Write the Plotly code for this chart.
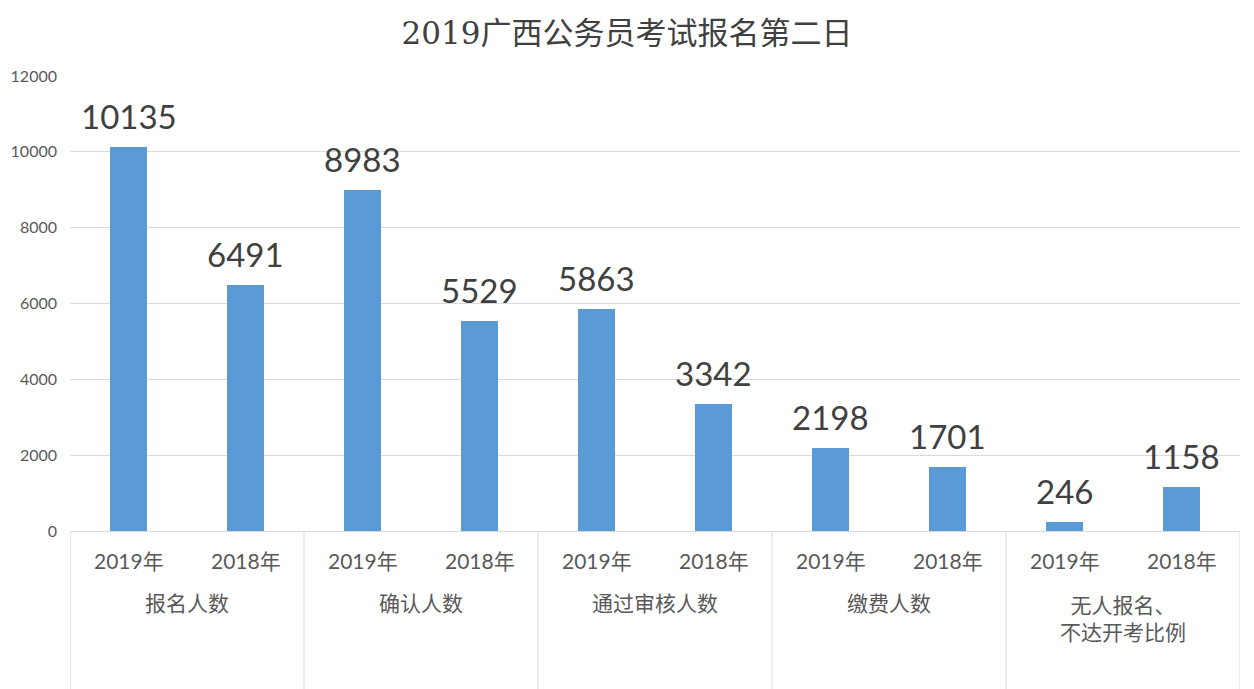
import plotly.graph_objects as go

groups = ["报名人数", "确认人数", "通过审核人数", "缴费人数", "无人报名、<br>不达开考比例"]
years = ["2019年", "2018年"]
values_2019 = [10135, 8983, 5863, 2198, 246]
values_2018 = [6491, 5529, 3342, 1701, 1158]
y_ticks = [0, 2000, 4000, 6000, 8000, 10000, 12000]

labels = []
vals = []
for i, g in enumerate(groups):
    labels += years
    vals += [values_2019[i], values_2018[i]]
xs = list(range(len(vals)))

num_font = "Lato, Noto Sans CJK SC, sans-serif"

fig = go.Figure()
fig.add_trace(go.Bar(
    x=xs, y=vals, width=0.32,
    marker=dict(color="#5B9BD5", line=dict(width=0)),
    cliponaxis=False, showlegend=False, hoverinfo="x+y",
))

annotations = []
for x, v in zip(xs, vals):
    annotations.append(dict(x=x, y=v, xref="x", yref="y", text=str(v), showarrow=False,
                            font=dict(size=33, color="#404040", family=num_font),
                            xanchor="center", yanchor="bottom", yshift=9))
for x, lab in zip(xs, labels):
    annotations.append(dict(x=x, y=-0.064, xref="x", yref="paper", text=lab,
                            showarrow=False, font=dict(size=21, color="#595959", family=num_font),
                            xanchor="center", yanchor="middle"))
for i, g in enumerate(groups):
    cx = 2 * i + 0.5
    yy = -0.157 if "<br>" not in g else -0.19
    annotations.append(dict(x=cx, y=yy, xref="x", yref="paper", text=g,
                            showarrow=False, font=dict(size=21, color="#595959", family="Noto Sans CJK SC"),
                            xanchor="center", yanchor="middle", align="center"))

shapes = []
for k in range(len(groups) + 1):
    xv = 2 * k - 0.5
    shapes.append(dict(type="line", xref="x", yref="paper", x0=xv, x1=xv, y0=0, y1=-0.35,
                       line=dict(color="#d9d9d9", width=1)))

fig.update_layout(
    width=1254, height=689,
    margin=dict(l=70, r=14, t=76, b=158),
    paper_bgcolor="white", plot_bgcolor="white",
    title=dict(text="2019广西公务员考试报名第二日", x=0.5, xanchor="center", y=0.952, yanchor="middle",
               font=dict(size=31, color="#404040", family="DejaVu Serif, Noto Sans CJK SC, serif")),
    xaxis=dict(range=[-0.5, 9.5], showticklabels=False, showgrid=False, zeroline=False,
               showline=False, ticks=""),
    yaxis=dict(range=[0, 12000], tickvals=y_ticks, tickformat="d", showgrid=True, gridcolor="#d9d9d9", gridwidth=1,
               zeroline=True, zerolinecolor="#d9d9d9", zerolinewidth=1,
               tickfont=dict(size=16, color="#595959", family=num_font), ticks="", ticklabelstandoff=12),
    annotations=annotations, shapes=shapes, bargap=0,
)

fig.write_html("out.html")
